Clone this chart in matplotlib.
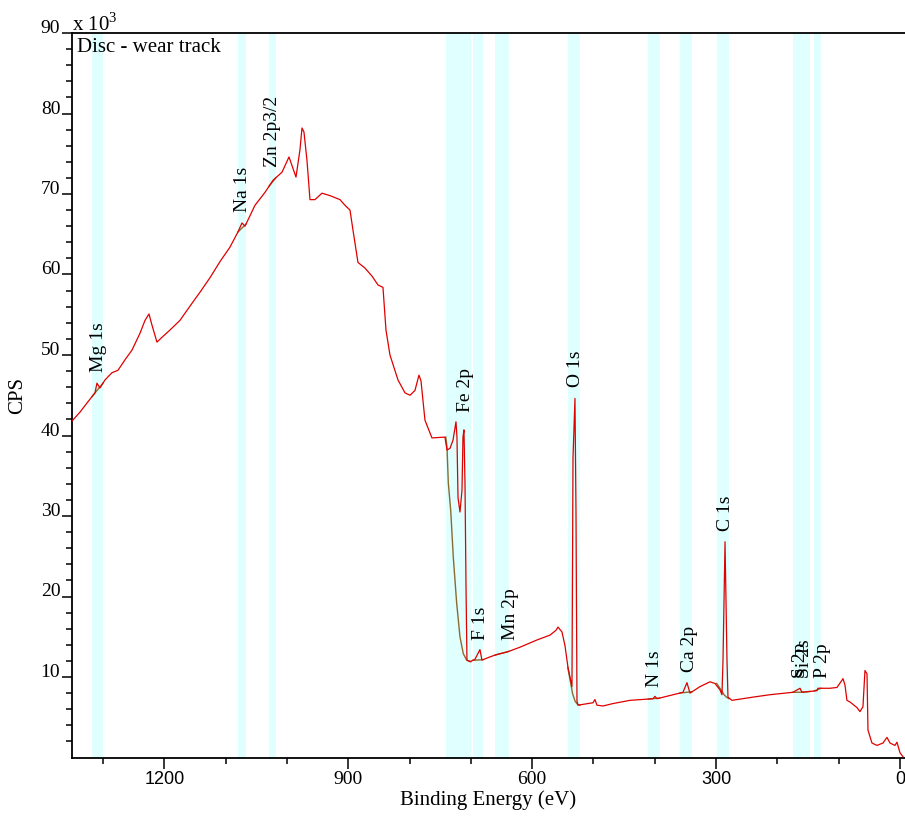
import matplotlib
matplotlib.use("Agg")
import matplotlib.pyplot as plt
import numpy as np

plt.rcParams['font.family'] = ['Liberation Serif', 'DejaVu Serif']
plt.rcParams['mathtext.fontset'] = 'custom'
plt.rcParams['mathtext.rm'] = 'Liberation Serif'

# Survey spectrum: binding energy (eV) and counts (x 10^3 CPS)
be_ev = [1350.7, 1337.7, 1324.6, 1313.2, 1310.0, 1305.1, 1296.9, 1285.5, 1275.7, 1264.3,
         1252.9, 1239.8, 1231.6, 1225.1, 1220.2, 1212.1, 1203.9, 1190.9, 1174.6, 1153.3,
         1141.9, 1125.6, 1109.3, 1093.0, 1079.9, 1073.4, 1068.5, 1052.2, 1035.9, 1022.8,
         1008.2, 996.7, 985.3, 978.8, 975.5, 972.3, 967.4, 962.5, 954.3, 942.9,
         929.9, 913.5, 905.4, 897.2, 892.3, 884.2, 872.8, 861.3, 851.5, 843.4,
         838.5, 832.0, 818.9, 807.5, 799.3, 791.2, 784.7, 781.4, 774.9, 763.5,
         742.3, 739.0, 734.1, 729.2, 724.3, 722.7, 721.0, 717.8, 714.5, 712.9,
         711.3, 709.6, 708.0, 706.4, 701.5, 693.3, 685.2, 681.9, 668.8, 657.4,
         641.1, 619.9, 592.2, 571.0, 561.2, 557.9, 551.4, 546.5, 541.6, 535.1,
         533.4, 530.2, 528.5, 526.9, 525.3, 500.8, 497.6, 494.3, 484.5, 468.2,
         440.5, 402.9, 399.7, 396.4, 375.2, 354.0, 347.5, 342.6, 326.3, 310.0,
         301.8, 293.6, 290.4, 288.7, 285.4, 282.2, 280.6, 274.1, 239.8, 212.1,
         174.6, 163.1, 159.9, 135.4, 133.8, 114.2, 102.8, 94.6, 93.0, 89.7,
         86.5, 81.6, 70.1, 65.3, 60.4, 57.1, 53.8, 52.2, 45.7, 37.5,
         27.7, 21.2, 16.3, 8.2, 4.9, 0.0, -4.9]
cps_k = [41.8, 42.9, 44.2, 45.3, 46.5, 45.9, 46.9, 47.8, 48.1, 49.4,
         50.6, 52.7, 54.3, 55.1, 53.7, 51.6, 52.2, 53.1, 54.3, 56.6,
         57.8, 59.6, 61.6, 63.4, 65.3, 66.4, 66.0, 68.6, 70.2, 71.7,
         72.7, 74.6, 72.1, 75.5, 78.2, 77.7, 74.2, 69.3, 69.3, 70.1,
         69.8, 69.3, 68.6, 68.0, 65.5, 61.5, 60.8, 59.8, 58.7, 58.4,
         53.1, 50.0, 46.9, 45.3, 45.0, 45.6, 47.5, 46.8, 41.9, 39.7,
         39.8, 38.2, 38.4, 39.4, 41.7, 39.8, 32.3, 30.5, 33.2, 39.8,
         40.7, 34.1, 21.6, 12.1, 11.9, 12.2, 13.4, 12.1, 12.5, 12.8,
         13.1, 13.7, 14.6, 15.2, 15.8, 16.2, 15.6, 13.9, 11.2, 8.8,
         37.2, 44.6, 30.3, 7.0, 6.5, 6.8, 7.2, 6.5, 6.4, 6.7,
         7.1, 7.3, 7.6, 7.3, 7.7, 8.1, 9.3, 8.0, 8.8, 9.4,
         9.2, 8.4, 7.8, 12.1, 26.8, 12.1, 7.5, 7.1, 7.5, 7.8,
         8.1, 8.6, 8.1, 8.3, 8.6, 8.6, 8.7, 9.6, 9.8, 9.0,
         7.1, 6.9, 6.2, 5.7, 6.3, 10.8, 10.4, 3.4, 1.8, 1.5,
         1.8, 2.5, 1.8, 1.5, 1.9, 0.6, 0.1]

# Peak identification regions (eV) and labels
band_hi = [1318, 1080, 1029, 741, 697, 661, 542, 411, 359, 299, 175, 158, 140]
band_lo = [1300, 1067, 1018, 700, 680, 638, 522, 392, 339, 279, 158, 147, 129]
peak_names = ["Mg 1s", "Na 1s", "Zn 2p3/2", "Fe 2p", "F 1s", "Mn 2p", "O 1s",
              "N 1s", "Ca 2p", "C 1s", "S 2p", "Si 2s", "P 2p"]
label_be = [1307, 1073, 1024, 708, 684, 636, 530, 400, 343, 285, 163, 155, 127]
label_k = [47.9, 67.8, 73.4, 42.9, 14.6, 14.6, 46.0, 8.8, 10.6, 28.1, 9.9, 9.9, 9.9]

# Backgrounds under the large peaks
fe_bg_ev = [741.0, 739.0, 736.8, 732.9, 728.7, 723.2, 717.8, 712.4, 706.9, 700.0]
fe_bg_k = [39.8, 38.6, 34.1, 30.7, 24.9, 19.2, 15.0, 12.9, 12.1, 11.9]
o_bg_ev = [542.0, 538.0, 534.0, 530.0, 526.0, 522.0]
o_bg_k = [11.2, 9.6, 7.9, 7.0, 6.6, 6.5]
c_bg_ev = [299.0, 292.0, 287.0, 283.0, 279.0]
c_bg_k = [9.2, 8.4, 7.8, 7.5, 7.3]

red = '#e00000'
brown = '#8c6a2e'
band_col = '#e0ffff'

fig = plt.figure(figsize=(9.05, 8.18), dpi=100)
ax = fig.add_axes([72/905, 60.5/818, 833/905, 724.5/818])

for lo, hi in zip(band_lo, band_hi):
    ax.axvspan(lo, hi, color=band_col, lw=0, zorder=0)

# simple straight backgrounds for the small regions
be_arr = np.array(be_ev)[::-1]
k_arr = np.array(cps_k)[::-1]
for i, (lo, hi) in enumerate(zip(band_lo, band_hi)):
    if peak_names[i] in ("Fe 2p", "O 1s", "C 1s"):
        continue
    ax.plot([hi, lo], [np.interp(hi, be_arr, k_arr), np.interp(lo, be_arr, k_arr)],
            color=brown, lw=1.0, zorder=2)
ax.plot(fe_bg_ev, fe_bg_k, color=brown, lw=1.0, zorder=2)
ax.plot(o_bg_ev, o_bg_k, color=brown, lw=1.0, zorder=2)
ax.plot(c_bg_ev, c_bg_k, color=brown, lw=1.0, zorder=2)

ax.plot(be_ev, cps_k, color=red, lw=0.9, zorder=3)

for name, x, y in zip(peak_names, label_be, label_k):
    ax.text(x, y, name, rotation=90, ha='center', va='bottom', fontsize=14, zorder=4)

ax.set_xlim(1350.7, -8.2)
ax.set_ylim(0, 90)
ax.set_xticks([1200, 900, 600, 300, 0])
ax.set_xticks([1300, 1100, 1000, 800, 700, 500, 400, 200, 100], minor=True)
ax.set_yticks(np.arange(10, 91, 10))
ax.set_yticks(np.arange(2, 90, 2), minor=True)
ax.set_yticklabels([str(v) for v in range(10, 91, 10)])

ax.tick_params(axis='x', which='major', direction='out', length=8, width=1.1, pad=1.5, labelsize=14)
ax.tick_params(axis='x', which='minor', direction='out', length=4.3, width=1.1)
ax.tick_params(axis='y', which='major', direction='out', length=7.2, width=1.1, pad=1.2, labelsize=14)
ax.tick_params(axis='y', which='minor', direction='out', length=4, width=1.1)
for lab in ax.get_yticklabels():
    lab.set_va('baseline')
for lab in ax.get_xticklabels():
    if lab.get_text() in ("1200", "300", "0"):
        lab.set_family(['Liberation Sans', 'DejaVu Sans'])
        lab.set_fontsize(13)

for s in ('left', 'bottom', 'top'):
    ax.spines[s].set_linewidth(1.3)
ax.spines['right'].set_visible(False)

ax.set_xlabel('Binding Energy (eV)', fontsize=15, labelpad=2)
ax.set_ylabel('CPS', fontsize=15, labelpad=10)

ax.text(0.0, 1.003, 'x 10$^{\\mathregular{3}}$', transform=ax.transAxes, ha='left', va='baseline', fontsize=15)
ax.text(0.006, 0.993, 'Disc - wear track', transform=ax.transAxes, ha='left', va='top', fontsize=15)

fig.savefig('out.png', dpi=100)
